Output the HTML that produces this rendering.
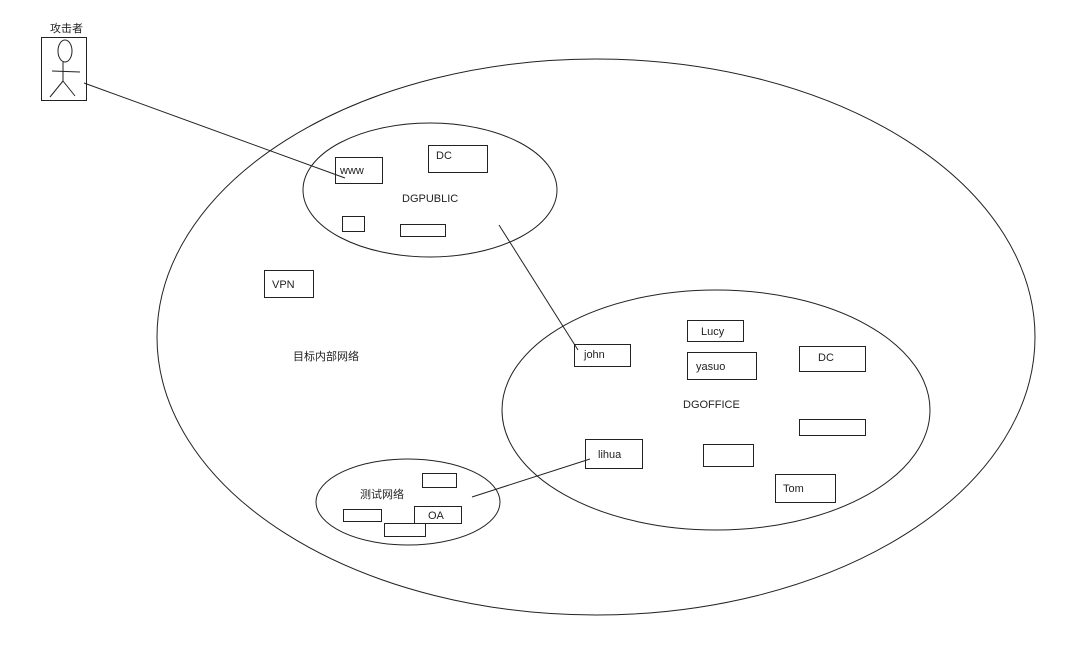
<!DOCTYPE html>
<html><head><meta charset="utf-8"><style>
html,body{margin:0;padding:0;background:#fff}
svg text{font-family:"Liberation Sans","Noto Sans CJK SC",sans-serif;font-size:11px;fill:#222}
</style></head><body>
<svg width="1080" height="660" viewBox="0 0 1080 660" xmlns="http://www.w3.org/2000/svg">
<g fill="none" stroke="#222" stroke-width="1">
<ellipse cx="596" cy="337" rx="439" ry="278"/>
<ellipse cx="430" cy="190" rx="127" ry="67"/>
<ellipse cx="716" cy="410" rx="214" ry="120"/>
<ellipse cx="408" cy="502" rx="92" ry="43"/>
<rect x="41.5" y="37.5" width="45" height="63"/>
<ellipse cx="65" cy="51" rx="7" ry="11"/>
<line x1="52" y1="71" x2="80" y2="72"/>
<line x1="63" y1="62" x2="63" y2="81"/>
<line x1="63" y1="81" x2="50" y2="97"/>
<line x1="63" y1="81" x2="75" y2="96"/>
<rect x="335.5" y="157.5" width="47" height="26"/>
<rect x="428.5" y="145.5" width="59" height="27"/>
<rect x="342.5" y="216.5" width="22" height="15"/>
<rect x="400.5" y="224.5" width="45" height="12"/>
<rect x="264.5" y="270.5" width="49" height="27"/>
<rect x="574.5" y="344.5" width="56" height="22"/>
<rect x="687.5" y="320.5" width="56" height="21"/>
<rect x="687.5" y="352.5" width="69" height="27"/>
<rect x="799.5" y="346.5" width="66" height="25"/>
<rect x="799.5" y="419.5" width="66" height="16"/>
<rect x="585.5" y="439.5" width="57" height="29"/>
<rect x="703.5" y="444.5" width="50" height="22"/>
<rect x="775.5" y="474.5" width="60" height="28"/>
<rect x="422.5" y="473.5" width="34" height="14"/>
<rect x="343.5" y="509.5" width="38" height="12"/>
<rect x="414.5" y="506.5" width="47" height="17"/>
<rect x="384.5" y="523.5" width="41" height="13"/>
<line x1="84" y1="83" x2="345" y2="178"/>
<line x1="499" y1="225" x2="578" y2="350"/>
<line x1="472" y1="497" x2="590" y2="459"/>
</g>
<text x="50" y="32">攻击者</text>
<text x="340" y="174">www</text>
<text x="436" y="159">DC</text>
<text x="402" y="202">DGPUBLIC</text>
<text x="272" y="288">VPN</text>
<text x="293" y="360">目标内部网络</text>
<text x="584" y="358">john</text>
<text x="701" y="335">Lucy</text>
<text x="696" y="370">yasuo</text>
<text x="818" y="361">DC</text>
<text x="683" y="408">DGOFFICE</text>
<text x="598" y="458">lihua</text>
<text x="783" y="492">Tom</text>
<text x="360" y="498">测试网络</text>
<text x="428" y="519">OA</text>
</svg>
</body></html>
